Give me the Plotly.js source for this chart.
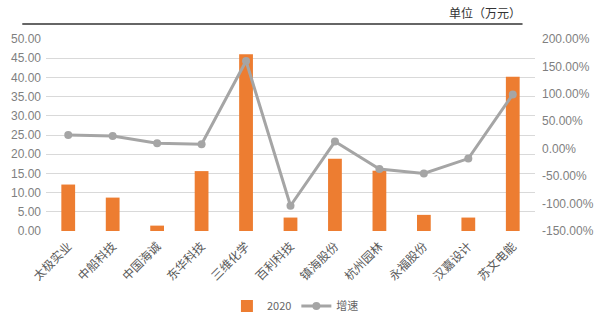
<!DOCTYPE html>
<html><head><meta charset="utf-8">
<script src="https://cdn.plot.ly/plotly-3.0.1.min.js"></script>
<style>body{margin:0;background:#fff}#c{width:600px;height:317px}</style>
</head><body><div id="c"></div>
<script>
const categories = ["太极实业","中船科技","中国海诚","东华科技","三维化学","百利科技","镇海股份","杭州园林","永福股份","汉嘉设计","苏文电能"];
const values2020 = [12.1, 8.7, 1.4, 15.6, 46.0, 3.5, 18.8, 15.7, 4.2, 3.5, 40.2];
const growth = [25, 23, 10, 8, 160, -104, 13, -37, -45, -18, 99];
const leftTicks = [0,5,10,15,20,25,30,35,40,45,50];
const rightTicks = [-150,-100,-50,0,50,100,150,200];

const tickFont = {family:"Liberation Sans, Arial, sans-serif", size:12, color:"#7f7f7f"};
const data = [
  {type:"bar", name:"2020", x:categories, y:values2020, marker:{color:"#ed7d31"}, yaxis:"y"},
  {type:"scatter", mode:"lines+markers", name:"增速", x:categories, y:growth, yaxis:"y2",
   line:{color:"#a5a5a5", width:3}, marker:{color:"#a5a5a5", size:8}}
];
const layout = {
  width:600, height:317,
  margin:{l:45.75, r:64.75, t:39, b:86, autoexpand:false},
  paper_bgcolor:"#fff", plot_bgcolor:"#fff",
  bargap:0.69,
  showlegend:true,
  legend:{orientation:"h", x:0.37, xanchor:"left", y:-0.39, yanchor:"middle", itemwidth:30,
    tracegroupgap:0,
    font:{family:"Noto Sans CJK SC, Liberation Sans, sans-serif", size:11, color:"#666"}},
  xaxis:{type:"category", range:[-0.5, categories.length-0.5], tickangle:-45, automargin:false,
    ticklabelstandoff:5,
    tickfont:{family:"Noto Sans CJK SC, sans-serif", size:12, color:"#595959"},
    showgrid:false, showline:false, ticks:"", zeroline:false},
  yaxis:{range:[0,50], automargin:false, tickvals:leftTicks, ticktext:leftTicks.map(v=>v.toFixed(2)),
    ticklabelstandoff:4,
    tickfont:tickFont, showgrid:true, gridcolor:"#d9d9d9", gridwidth:1, zeroline:false, showline:false, ticks:""},
  yaxis2:{range:[-150,200], automargin:false, overlaying:"y", side:"right", tickvals:rightTicks,
    ticklabelstandoff:6,
    ticktext:rightTicks.map(v=>v.toFixed(2)+"%"), tickfont:tickFont, showgrid:false, zeroline:false, showline:false, ticks:""},
  shapes:[{type:"line", xref:"paper", yref:"paper", x0:-0.0485, x1:0.9745, y0:1.078, y1:1.078,
    line:{color:"#333", width:1.5}}],
  annotations:[{xref:"paper", yref:"paper", x:0.9745, xanchor:"right", y:1.14, yanchor:"middle", showarrow:false,
    text:"单位（万元）", font:{family:"Noto Sans CJK SC, sans-serif", size:12, color:"#333"}}]
};
Plotly.newPlot("c", data, layout, {displayModeBar:false, staticPlot:true});
</script></body></html>
